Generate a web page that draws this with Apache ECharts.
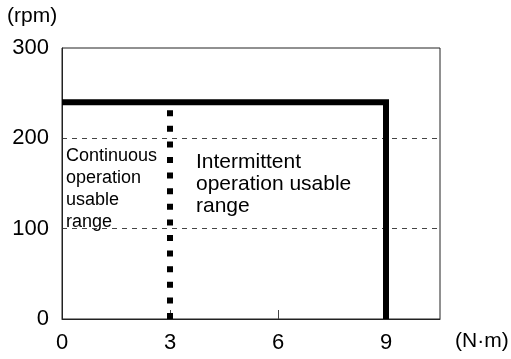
<!DOCTYPE html>
<html>
<head>
<meta charset="utf-8">
<script src="https://cdn.jsdelivr.net/npm/echarts@6/dist/echarts.min.js"></script>
<style>
	html, body { margin: 0; padding: 0; background: #fff; }
	#chart { width: 511px; height: 359px; }
</style>
</head>
<body>
<div id="chart"></div>
<script>
	// 数据
	var xTicks = [0, 3, 6, 9];
	var xInnerTicks = [3, 6, 9];
	var yTicks = [0, 100, 200, 300];
	var intermittentLine = [[0, 240], [9, 240], [9, 0]];
	var continuousLine = [[3, 0], [3, 240]];
	var continuousText = 'Continuous\noperation\nusable\nrange';
	var intermittentText = 'Intermittent\noperation usable\nrange';

	var font = 'Liberation Sans, Arial, sans-serif';

	var option = {
		animation: false,
		grid: {
			left: 62,
			right: 71,
			top: 48,
			bottom: 40,
			show: true,
			borderColor: '#222',
			borderWidth: 1
		},
		xAxis: {
			type: 'value',
			min: 0,
			max: 10.5,
			interval: 3,
			axisLine: { lineStyle: { color: '#222', width: 1 } },
			axisTick: {
				inside: true,
				length: 9,
				customValues: xInnerTicks,
				lineStyle: { color: '#444' }
			},
			axisLabel: {
				customValues: xTicks,
				margin: 13,
				fontSize: 22,
				color: '#000',
				fontFamily: font
			},
			splitLine: { show: false }
		},
		yAxis: {
			type: 'value',
			min: 0,
			max: 300,
			interval: 100,
			axisLine: { show: true, lineStyle: { color: '#222', width: 1 } },
			axisTick: { show: false },
			axisLabel: {
				customValues: yTicks,
				margin: 13,
				fontSize: 22,
				color: '#000',
				fontFamily: font
			},
			splitLine: {
				show: true,
				showMinLine: false,
				showMaxLine: false,
				lineStyle: { color: '#444', width: 1, type: [5, 5] }
			}
		},
		graphic: [
			{ type: 'text', left: 7, top: 6, style: { text: '(rpm)', fill: '#000', font: '21px ' + font } },
			{ type: 'text', left: 455, top: 331, style: { text: '(N·m)', fill: '#000', font: '21px ' + font } },
			{ type: 'text', left: 66, top: 145, style: { text: continuousText, fill: '#000', font: '18px ' + font, lineHeight: 22 } },
			{ type: 'text', left: 196, top: 151, style: { text: intermittentText, fill: '#000', font: '21px ' + font, lineHeight: 22 } }
		],
		series: [
			{
				type: 'line',
				data: continuousLine,
				symbol: 'none',
				z: 3,
				lineStyle: { color: '#000', width: 6, type: [6, 9.6], cap: 'butt' }
			},
			{
				type: 'line',
				data: intermittentLine,
				symbol: 'none',
				z: 4,
				lineStyle: { color: '#000', width: 6, cap: 'butt', join: 'miter' }
			}
		]
	};

	echarts.init(document.getElementById('chart')).setOption(option);
</script>
</body>
</html>
